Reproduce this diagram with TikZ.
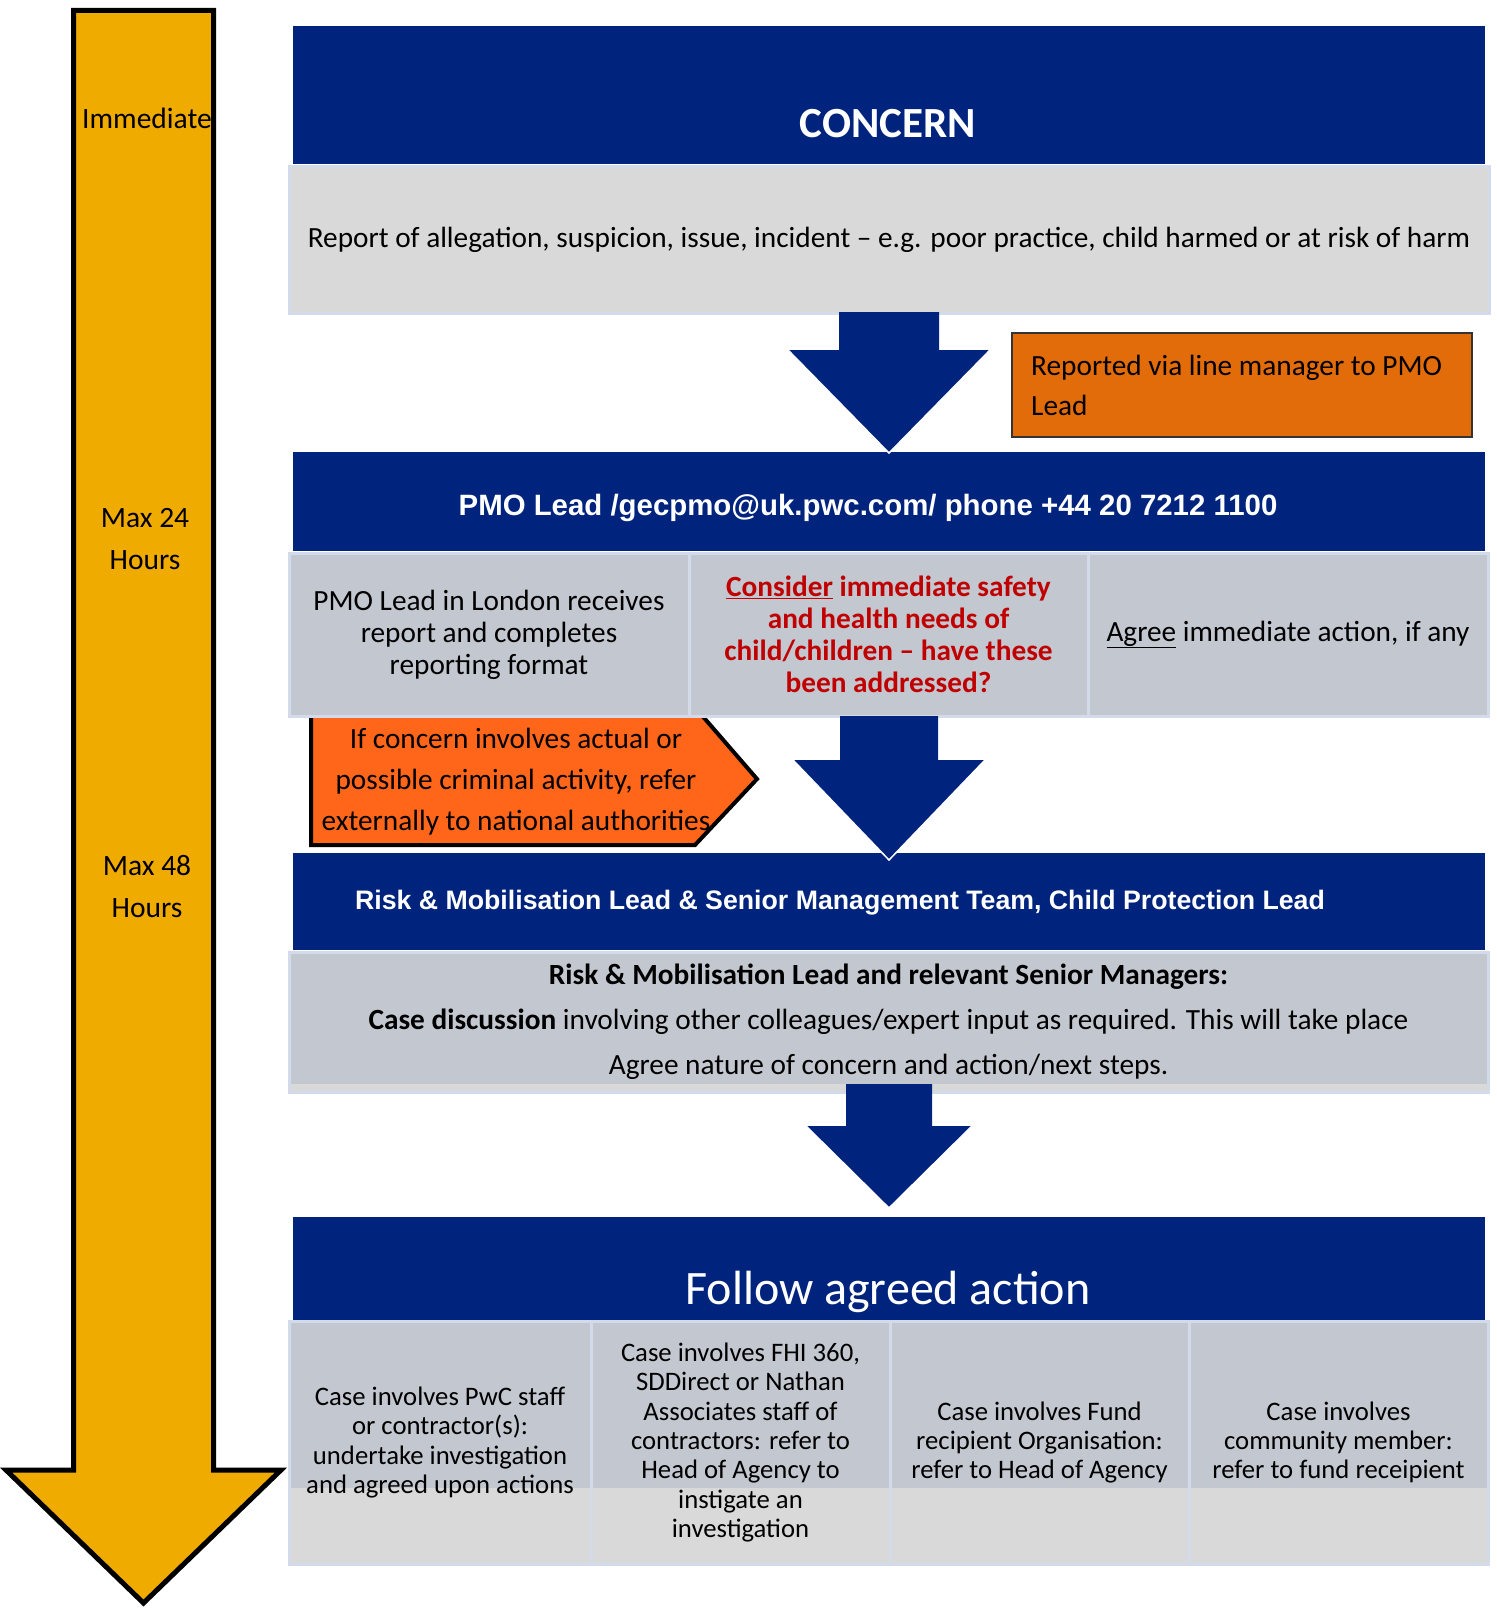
\documentclass[tikz,border=0pt]{standalone}
\usepackage{fontspec}
\setmainfont{Carlito}
\newfontfamily\arialfont{Liberation Sans}
\usetikzlibrary{positioning}

\definecolor{pmoblue}{RGB}{0,36,125}
\definecolor{timeline}{RGB}{240,171,0}
\definecolor{lightgrey}{RGB}{217,217,217}
\definecolor{cellgrey}{RGB}{195,199,208}
\definecolor{cellline}{RGB}{211,218,234}
\definecolor{lineorange}{RGB}{227,108,10}
\definecolor{policeorange}{RGB}{255,102,26}
\definecolor{alertred}{RGB}{192,0,0}

% centre x, top, shoulder, tip, half shaft, half head
\newcommand{\flowarrow}[6]{%
  \fill[pmoblue] (#1-#5,#2) -- (#1+#5,#2) -- (#1+#5,#3) -- (#1+#6,#3) -- (#1,#4) -- (#1-#6,#3) -- (#1-#5,#3) -- cycle;
  \draw[white, line width=1.5pt] (#1+#6,#3) -- (#1,#4) -- (#1-#6,#3);}

\begin{document}
\begin{tikzpicture}[x=1pt, y=-1pt,
	headbar/.style={fill=pmoblue, inner sep=0pt, minimum width=1192pt},
	cellbox/.style={draw=cellline, line width=3pt, inner sep=0pt, align=center},
	bodytext/.style={font=\fontsize{29.3}{32}\selectfont},
	smalltext/.style={font=\fontsize{26.7}{29.3}\selectfont},
	headtext/.style={inner sep=0pt, text=white, font=\arialfont\bfseries\fontsize{29.4}{32}\selectfont},
	sidetext/.style={inner sep=0pt, align=center, font=\fontsize{29.5}{42}\selectfont}
]
	\useasboundingbox (0,0) rectangle (1496,1608);

	% time line
	\filldraw [fill=timeline, draw=black, line width=5pt, line join=miter]
		(73.5,10.5) -- (213.5,10.5) -- (213.5,1470) -- (281,1470) -- (143.5,1603) -- (6,1470) -- (73.5,1470) -- cycle;
	\node [sidetext] (immediate) at (147,118) {Immediate};
	\node [sidetext] (max24) at (145,539) {Max 24\\Hours};
	\node [sidetext] (max48) at (147,887) {Max 48\\Hours};

	% concern
	\node [headbar, minimum height=138pt] (concernbar) at (889,95) {};
	\node [headtext, font=\bfseries\fontsize{43}{48}\selectfont] (concern) at (888,124) {CONCERN};
	\node [cellbox, bodytext, fill=lightgrey, minimum width=1200pt, minimum height=146pt] (report) at (889,240)
		{Report of allegation, suspicion, issue, incident -- e.g. poor practice, child harmed or at risk of harm};

	\node [draw=black!80, line width=2pt, fill=lineorange, minimum width=460pt, minimum height=104pt] (linemanager) at (1242,385) {};
	\node [bodytext, inner sep=0pt, align=left, anchor=west, font=\fontsize{29.3}{40}\selectfont] (linetext) at (1031,385)
		{Reported via line manager to PMO\\Lead};

	% PMO lead
	\node [headbar, minimum height=99pt] (pmobar) at (889,501.5) {};
	\node [headtext] (pmo) at (868,508) {PMO Lead /gecpmo@uk.pwc.com/ phone +44 20 7212 1100};

	\filldraw [fill=policeorange, draw=black, line width=4pt, line join=miter]
		(311,712) -- (699,712) -- (757,779) -- (695,845) -- (311,845) -- cycle;
	\node [bodytext, inner sep=0pt, align=center, font=\fontsize{29.3}{41}\selectfont] (criminal) at (516,782)
		{If concern involves actual or\\possible criminal activity, refer\\externally to national authorities};

	\node [cellbox, bodytext, fill=cellgrey, minimum width=400pt, minimum height=163pt] (receives) at (489,634.5)
		{PMO Lead in London receives\\report and completes\\reporting format};
	\node [cellbox, bodytext, fill=cellgrey, minimum width=399pt, minimum height=163pt, text=alertred, font=\bfseries\fontsize{29.3}{32}\selectfont] (safety) at (888.5,634.5)
		{\underline{Consider} immediate safety\\and health needs of\\child/children -- have these\\been addressed?};
	\node [cellbox, bodytext, fill=cellgrey, minimum width=400pt, minimum height=163pt] (agree) at (1288,634.5)
		{\underline{Agree} immediate action, if any};

	% risk and mobilisation
	\node [headbar, minimum height=97pt] (riskbar) at (889,901.5) {};
	\node [headtext, font=\arialfont\bfseries\fontsize{26.7}{32}\selectfont] (risk) at (840,903)
		{Risk \& Mobilisation Lead \& Senior Management Team, Child Protection Lead};

	\fill [lightgrey] (289,952) rectangle (1488,1092);
	\fill [cellgrey] (289,952) rectangle (1488,1084);
	\node [cellbox, bodytext, minimum width=1199pt, minimum height=140pt, font=\fontsize{29.3}{45}\selectfont] (discussion) at (888.5,1022)
		{\textbf{Risk \& Mobilisation Lead and relevant Senior Managers:}\\
		 \textbf{Case discussion} involving other colleagues/expert input as required. This will take place\\
		 Agree nature of concern and action/next steps.};

	% follow agreed action
	\node [headbar, minimum height=103pt] (followbar) at (889,1268.5) {};
	\node [headtext, font=\fontsize{48}{54}\selectfont] (follow) at (888,1292) {Follow agreed action};

	\fill [lightgrey] (289,1321) rectangle (1488,1564);
	\fill [cellgrey] (289,1321) rectangle (1488,1488);
	\node [cellbox, smalltext, minimum width=302pt, minimum height=243pt] (pwc) at (440,1442.5)
		{Case involves PwC staff\\or contractor(s):\\undertake investigation\\and agreed upon actions};
	\node [cellbox, smalltext, minimum width=299pt, minimum height=243pt] (fhi) at (740.5,1442.5)
		{Case involves FHI 360,\\SDDirect or Nathan\\Associates staff of\\contractors: refer to\\Head of Agency to\\instigate an\\investigation};
	\node [cellbox, smalltext, minimum width=299pt, minimum height=243pt] (fund) at (1039.5,1442.5)
		{Case involves Fund\\recipient Organisation:\\refer to Head of Agency};
	\node [cellbox, smalltext, minimum width=299pt, minimum height=243pt] (community) at (1338.5,1442.5)
		{Case involves\\community member:\\refer to fund receipient};

	% arrows
	\flowarrow{889}{312}{350}{453}{50}{101}
	\flowarrow{889}{716}{760}{860}{49}{96}
	\flowarrow{889}{1084}{1126}{1208}{43}{83}
\end{tikzpicture}
\end{document}
